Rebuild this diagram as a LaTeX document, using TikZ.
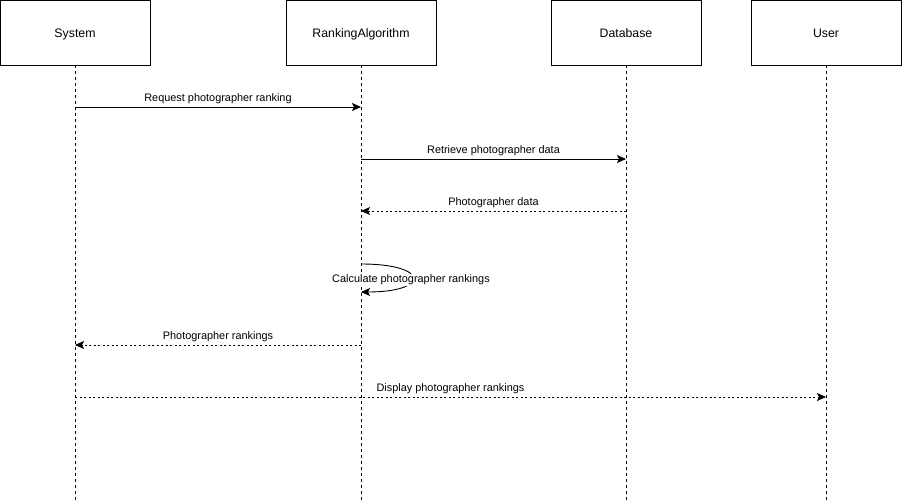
\documentclass[tikz,border=0pt]{standalone}
\usepackage{fontspec}
\setmainfont{Liberation Sans}
\usetikzlibrary{arrows.meta}
\begin{document}
\begin{tikzpicture}[x=1pt,y=-1pt,
  actor/.style={draw,line width=0.9pt,minimum width=150pt,minimum height=65pt,inner sep=0pt,text height=12.8pt,text depth=3pt,font=\fontsize{12.3}{14}\selectfont},
  life/.style={line width=0.9pt,dash pattern=on 3pt off 3pt},
  msg/.style={line width=0.9pt,-{Stealth[length=9pt,width=8pt,inset=2pt]}},
  ret/.style={msg,dash pattern=on 2pt off 2.5pt},
  lbl/.style={font=\fontsize{10.9}{12}\selectfont,inner sep=1pt}]
\useasboundingbox (0,0) rectangle (902,503);
\node[actor] (sys) at (75,32.5) {System};
\node[actor] (alg) at (361,32.5) {RankingAlgorithm};
\node[actor] (db) at (626,32.5) {Database};
\node[actor] (usr) at (826,32.5) {User};
\coordinate (sysE) at (75,501);
\coordinate (algE) at (361,501);
\coordinate (dbE) at (626,501);
\coordinate (usrE) at (826,501);
\draw[life] (sys.south) -- (sysE);
\draw[life] (alg.south) -- (algE);
\draw[life] (db.south) -- (dbE);
\draw[life] (usr.south) -- (usrE);
% message anchor points on lifelines
\coordinate (s1) at (75,107);  \coordinate (a1) at (361,107);
\coordinate (a2) at (361,159); \coordinate (d2) at (626,159);
\coordinate (d3) at (626,211); \coordinate (a3) at (361,211);
\coordinate (a4) at (361,264); \coordinate (a5) at (361,292);
\coordinate (a6) at (361,345); \coordinate (s6) at (75,345);
\coordinate (s7) at (75,397);  \coordinate (u7) at (826,397);
\draw[msg] (s1) -- node[lbl,above=1.5pt] {Request photographer ranking} (a1);
\draw[msg] (a2) -- node[lbl,above=1.5pt] {Retrieve photographer data} (d2);
\draw[ret] (d3) -- node[lbl,above=1.5pt] {Photographer data} (a3);
\draw[msg] (a4) .. controls (430,264) and (430,292) .. (a5);
\node[lbl,fill=white,inner sep=0.5pt] (calc) at (411,280) {Calculate photographer rankings};
\draw[ret] (a6) -- node[lbl,above=1.5pt] {Photographer rankings} (s6);
\draw[ret] (s7) -- node[lbl,above=1.5pt] {Display photographer rankings} (u7);
\end{tikzpicture}
\end{document}
